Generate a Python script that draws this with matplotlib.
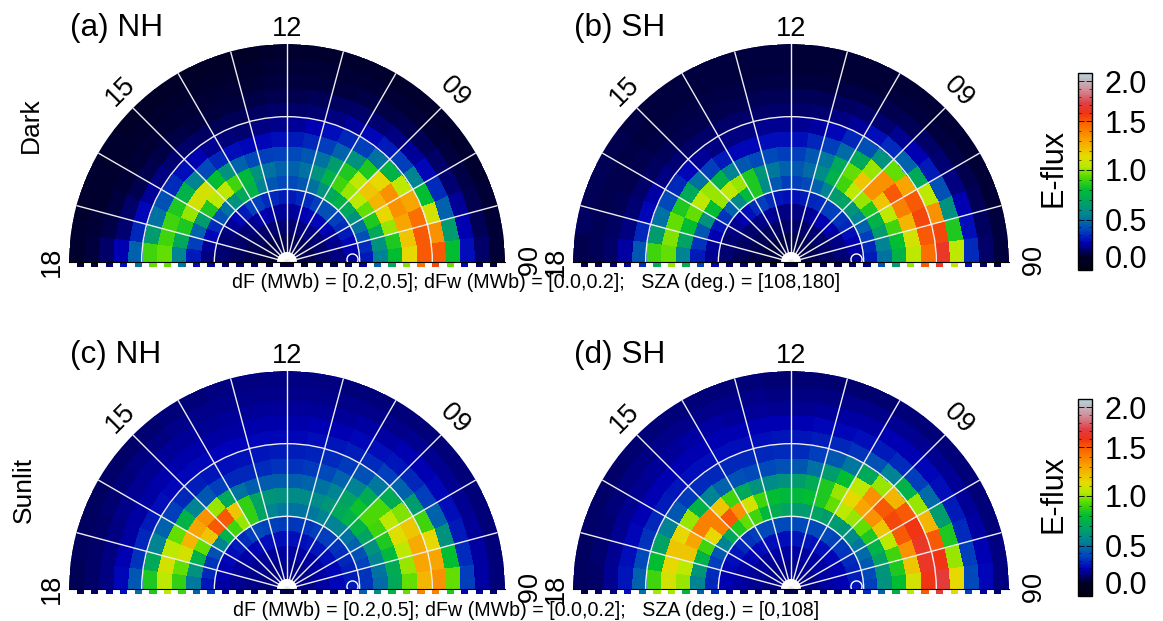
import numpy as np
import matplotlib
matplotlib.use("Agg")
import matplotlib.pyplot as plt
from matplotlib.colors import LinearSegmentedColormap, FuncNorm
from matplotlib.cm import ScalarMappable

plt.rcParams['font.family'] = ['Liberation Sans', 'DejaVu Sans']
W, H = 1163, 621

# E-flux x100, rows: 24 MLT bins from 06 to 18, columns: colatitude bins 0-30 in 2 deg steps
nh_dark = [
[5,5,8,12,15,25,55,80,115,150,150,80,22,8,2],
[5,5,8,12,18,30,60,85,120,150,135,65,18,6,2],
[5,5,8,13,20,40,70,100,130,145,110,45,15,5,2],
[5,5,9,14,25,50,85,115,135,130,80,30,10,4,1],
[5,6,10,16,30,60,95,125,135,105,55,20,8,3,1],
[5,6,10,20,35,70,105,120,115,75,35,15,6,2,1],
[5,6,12,20,40,75,100,105,85,50,25,12,5,2,1],
[5,6,12,20,40,70,90,85,60,35,20,10,4,2,1],
[5,6,12,20,35,60,75,65,45,28,15,8,4,2,1],
[5,6,12,18,30,50,60,50,35,22,12,7,3,2,1],
[5,5,10,16,28,42,50,42,28,18,10,6,3,2,1],
[4,5,10,15,25,38,45,38,25,15,9,5,3,2,1],
[4,5,10,15,25,38,45,36,22,13,8,5,3,2,1],
[4,5,10,15,28,42,50,35,20,12,7,4,2,1,0],
[4,5,10,16,30,55,60,38,20,10,6,3,2,1,0],
[4,5,10,18,35,75,78,45,22,11,6,3,2,1,0],
[4,5,9,16,35,70,90,60,28,14,7,3,2,1,0],
[4,4,8,14,25,60,105,80,38,18,9,4,2,1,0],
[3,4,8,12,20,50,105,110,55,22,10,4,2,1,0],
[3,4,7,10,15,40,85,110,75,30,12,5,2,1,1],
[3,4,6,8,12,30,65,100,85,40,15,5,2,1,1],
[3,3,5,8,10,20,45,85,90,50,20,8,3,1,1],
[2,3,5,7,10,15,35,70,90,65,28,10,4,2,1],
[2,3,5,7,10,12,25,55,95,90,45,18,8,3,1],
]
sh_dark = [
[5,5,7,10,14,25,50,75,105,145,165,105,30,8,3],
[5,5,7,11,16,28,55,80,110,150,155,85,22,7,3],
[5,5,8,12,18,35,65,90,125,155,135,60,18,6,2],
[5,5,8,13,22,45,75,105,140,150,105,40,12,5,2],
[5,5,9,15,28,55,85,120,150,130,70,25,10,4,2],
[5,5,10,18,32,62,100,135,135,95,45,18,8,3,2],
[5,6,10,18,35,68,105,120,100,60,30,14,6,3,2],
[5,6,10,18,35,65,90,95,70,40,22,10,5,3,2],
[5,5,10,16,30,55,75,70,48,28,15,8,4,2,2],
[4,5,9,14,28,45,58,52,35,20,12,7,4,2,2],
[4,5,8,13,25,38,48,42,28,16,10,6,3,2,2],
[4,4,8,12,22,35,42,35,22,14,9,6,3,2,2],
[4,4,8,12,22,35,45,35,22,14,9,6,4,3,3],
[4,4,8,12,24,42,52,38,22,14,9,6,4,3,3],
[4,4,8,14,30,58,62,38,20,12,8,5,4,3,3],
[3,4,8,15,35,85,85,42,20,12,8,5,4,3,3],
[3,4,7,14,30,78,100,55,25,12,8,5,4,3,3],
[3,4,7,12,22,58,105,75,35,15,8,5,4,3,3],
[3,3,6,10,18,45,100,100,50,20,10,6,4,3,4],
[3,3,6,8,14,32,80,105,70,28,12,7,5,4,5],
[2,3,5,8,12,24,60,95,85,38,16,8,5,5,6],
[2,3,5,7,10,18,42,80,95,50,20,10,6,5,6],
[2,3,5,7,10,15,32,68,98,65,28,12,7,6,7],
[2,3,4,6,10,14,25,55,95,90,42,16,8,6,5],
]
nh_sunlit = [
[13,13,16,20,25,32,48,70,95,125,135,95,35,16,11],
[13,13,16,20,25,32,50,72,100,130,130,80,30,16,11],
[13,13,16,20,26,36,55,78,105,128,115,60,25,15,11],
[13,13,16,20,28,40,60,85,112,120,90,45,22,14,11],
[13,13,16,22,30,45,68,90,105,98,65,35,20,14,11],
[13,13,16,22,32,50,75,92,92,72,45,28,18,14,11],
[12,13,16,24,35,55,75,82,72,52,35,24,18,14,11],
[12,13,16,24,35,55,70,68,55,40,30,22,16,13,11],
[12,13,16,24,35,55,62,55,45,34,26,20,16,13,11],
[12,13,16,22,33,52,58,50,38,30,24,18,15,13,11],
[12,13,16,22,33,50,58,46,34,27,22,18,15,13,12],
[12,13,16,22,33,50,58,44,32,26,20,17,15,13,12],
[12,13,16,22,34,52,60,44,32,25,20,17,15,13,12],
[12,13,16,22,35,55,62,44,30,24,20,17,15,13,12],
[12,13,15,22,36,68,68,44,28,23,19,16,15,13,12],
[12,12,15,22,38,88,88,50,28,22,19,16,14,13,11],
[12,12,15,20,35,100,120,70,35,24,20,17,15,13,11],
[12,12,15,18,30,90,150,100,42,26,20,17,15,12,10],
[12,12,14,17,25,75,150,135,55,28,20,17,14,12,9],
[12,12,14,16,22,55,120,130,75,35,22,16,14,11,8],
[11,12,14,15,20,40,95,125,95,45,25,16,13,10,7],
[11,12,13,15,18,32,75,110,105,55,28,16,12,9,7],
[11,11,13,14,18,28,60,95,110,70,32,18,12,9,7],
[11,11,13,14,16,24,52,88,105,85,42,20,12,8,6],
]
sh_sunlit = [
[13,13,16,18,24,35,60,80,110,160,170,115,38,20,12],
[13,13,16,18,26,38,62,85,120,165,160,100,35,18,12],
[13,13,16,18,27,42,68,90,135,165,150,85,30,16,11],
[13,13,16,18,30,48,75,105,150,160,125,65,25,15,11],
[13,13,16,20,32,52,85,120,155,150,100,48,22,15,11],
[13,14,16,20,34,58,95,135,150,125,75,35,20,14,11],
[13,14,16,22,36,62,100,130,135,100,55,30,18,14,11],
[13,14,16,22,38,65,105,115,105,70,40,25,18,14,11],
[13,14,16,22,38,65,95,100,80,52,32,22,16,13,10],
[13,14,16,24,38,68,85,85,65,42,28,20,16,13,10],
[13,14,16,24,38,65,80,72,50,35,26,20,15,12,10],
[13,13,16,24,38,65,78,65,42,30,24,18,14,12,10],
[13,13,16,22,38,68,78,60,40,30,24,18,14,12,10],
[13,13,16,22,38,72,80,58,38,28,22,18,15,13,11],
[13,13,16,22,38,78,90,60,38,28,22,18,15,13,11],
[13,13,16,22,38,90,110,70,40,28,22,18,16,13,11],
[13,13,15,22,35,95,135,90,45,28,22,18,16,13,11],
[13,13,15,20,32,85,150,120,55,30,22,18,15,13,11],
[13,13,15,20,28,70,140,140,75,34,24,18,15,12,10],
[13,13,15,18,24,55,115,140,100,42,25,18,14,12,9],
[12,13,14,17,22,42,90,130,115,55,28,18,14,11,8],
[12,13,14,16,20,35,75,120,120,68,32,20,14,10,8],
[12,13,14,16,18,30,62,105,115,80,38,22,14,10,7],
[12,12,14,16,18,28,55,100,110,90,45,24,14,9,7],
]
# strip of the bins just beyond the 06 / 18 line (E-flux x100)
strip_dawn = [
[2,2,5,5,8,15,45,72,98,145,155,95,20,6,3],
[2,2,4,5,8,12,40,65,100,150,165,105,22,8,3],
[5,5,8,10,14,45,58,75,95,140,140,85,20,14,10],
[5,5,8,10,16,28,45,72,105,150,170,115,35,15,10],
]
strip_dusk = [
[2,3,8,8,8,15,22,50,95,95,50,22,10,2,2],
[2,3,6,8,10,18,35,72,100,72,30,14,8,5,5],
[5,6,8,10,14,35,45,90,105,85,48,22,15,8,6],
[5,6,8,8,14,30,45,75,102,102,50,22,12,8,5],
]
panel_titles = ['(a) NH', '(b) SH', '(c) NH', '(d) SH']
row_labels = ['Dark', 'Sunlit']
captions = ['dF (MWb) = [0.2,0.5]; dFw (MWb) = [0.0,0.2];   SZA (deg.) = [108,180]',
            'dF (MWb) = [0.2,0.5]; dFw (MWb) = [0.0,0.2];   SZA (deg.) = [0,108]']
cbar_ticks = [0.0, 0.5, 1.0, 1.5, 2.0]
cbar_minor = [0.1, 0.2, 0.3, 0.4, 0.6, 0.7, 0.8, 0.9, 1.1, 1.2, 1.3, 1.4, 1.6, 1.7, 1.8, 1.9]

VALS = [-0.2, 0.0, 0.5, 1.0, 1.5, 2.0, 2.12]
POS = [0.0, 0.068, 0.254, 0.508, 0.754, 0.958, 1.0]
norm = FuncNorm((lambda v: np.interp(v, VALS, POS), lambda p: np.interp(p, POS, VALS)), vmin=-0.2, vmax=2.12)
cmap = LinearSegmentedColormap.from_list('eflux', [
    (0.00, (0.00, 0.00, 0.08)), (0.068, (0.00, 0.00, 0.16)), (0.136, (0.00, 0.00, 0.72)),
    (0.203, (0.00, 0.27, 0.74)), (0.271, (0.00, 0.50, 0.60)), (0.339, (0.00, 0.63, 0.40)),
    (0.407, (0.00, 0.74, 0.20)), (0.475, (0.33, 0.86, 0.00)), (0.525, (0.71, 0.92, 0.00)),
    (0.576, (0.90, 0.86, 0.00)), (0.661, (0.98, 0.63, 0.00)), (0.746, (0.98, 0.39, 0.00)),
    (0.797, (0.94, 0.20, 0.08)), (0.847, (0.88, 0.24, 0.27)), (0.915, (0.82, 0.55, 0.59)),
    (1.00, (0.71, 0.84, 0.86))], N=256)

R = 218
CENTERS = [(287, 262), (791, 262), (287, 589), (791, 589)]

fig = plt.figure(figsize=(W / 100, H / 100), dpi=100)

def box(x0, ytop, w, h):
    return [x0 / W, 1 - (ytop + h) / H, w / W, h / H]

def label(x, y, s, size, rot=0, ha='center', va='center'):
    fig.text(x / W, 1 - y / H, s, fontsize=size, rotation=rot, ha=ha, va=va,
             rotation_mode='anchor', color='black')

tables = [nh_dark, sh_dark, nh_sunlit, sh_sunlit]
for i, (cx, cy) in enumerate(CENTERS):
    ax = fig.add_axes(box(cx - R, cy - 1.5 * R, 2 * R, 2 * R), projection='polar')
    ax.set_thetamin(0)
    ax.set_thetamax(180)
    ax.set_rlim(0, 30)
    z = np.array(tables[i]) / 100
    th = np.radians(np.linspace(0, 180, z.shape[0] + 1))
    rr = np.linspace(0, 30, z.shape[1] + 1)
    ax.pcolormesh(th, rr, z.T, cmap=cmap, norm=norm, shading='flat', edgecolors='none', antialiased=False)
    ax.set_xticks(np.radians(np.arange(15, 180, 15)))
    ax.set_yticks([10, 20])
    ax.set_xticklabels([])
    ax.set_yticklabels([])
    ax.grid(True, color='#eeeeee', lw=1.0)
    ax.spines['polar'].set_visible(False)
    ax.spines['start'].set_visible(False)
    ax.spines['end'].set_visible(False)
    ax.spines['inner'].set_visible(False)
    ax.plot(np.radians(np.linspace(0, 180, 40)), np.full(40, 0.9), color='white', lw=5, solid_capstyle='butt')
    ax.plot([np.radians(3)], [9.0], marker='o', ms=8, mfc='none', mec='white', mew=1, clip_on=False)

    s = fig.add_axes(box(cx - R, cy + 1, 2 * R, 4))
    s.set_xlim(-30, 30)
    s.set_ylim(0, 1)
    s.axis('off')
    centers = np.arange(15) * 2 + 0.45
    s.bar(centers, 1, width=1.0, align='center', color=cmap(norm(np.array(strip_dawn[i]) / 100)))
    s.bar(-centers, 1, width=1.0, align='center', color=cmap(norm(np.array(strip_dusk[i]) / 100)))

    label(cx, cy - 233, '12', 19.5)
    label(cx - 166, cy - 171, '15', 19.5, rot=45)
    label(cx + 168, cy - 170, '09', 19.5, rot=-45)
    label(cx - 235, cy, '18', 19.5, rot=90)
    label(cx + 236, cy, '06', 19.5, rot=-90)
    label(cx - 217, cy - 234, panel_titles[i], 22.7, ha='left')

label(31, 125, row_labels[0], 19, rot=90)
label(24, 490, row_labels[1], 19, rot=90)
label(536, 283, captions[0], 14.1)
label(526, 610, captions[1], 14.1)

for ytop, yc in [(73, 168), (399, 494)]:
    cax = fig.add_axes(box(1078, ytop, 14, 197))
    sm = ScalarMappable(norm=norm, cmap=cmap)
    cb = fig.colorbar(sm, cax=cax, orientation='vertical')
    cb.set_ticks(cbar_ticks)
    cb.set_ticklabels(['%.1f' % t for t in cbar_ticks])
    cax.tick_params(axis='y', which='major', right=True, left=True, direction='in', length=4, width=0.6, labelsize=22, pad=9)
    cax.yaxis.set_ticks(cbar_minor, minor=True)
    cax.tick_params(axis='y', which='minor', right=True, left=True, direction='in', length=2, width=0.4, labelright=False)
    cb.outline.set_linewidth(1.0)
    label(1054, yc, 'E-flux', 22, rot=90)

fig.savefig('out.png', dpi=100)
